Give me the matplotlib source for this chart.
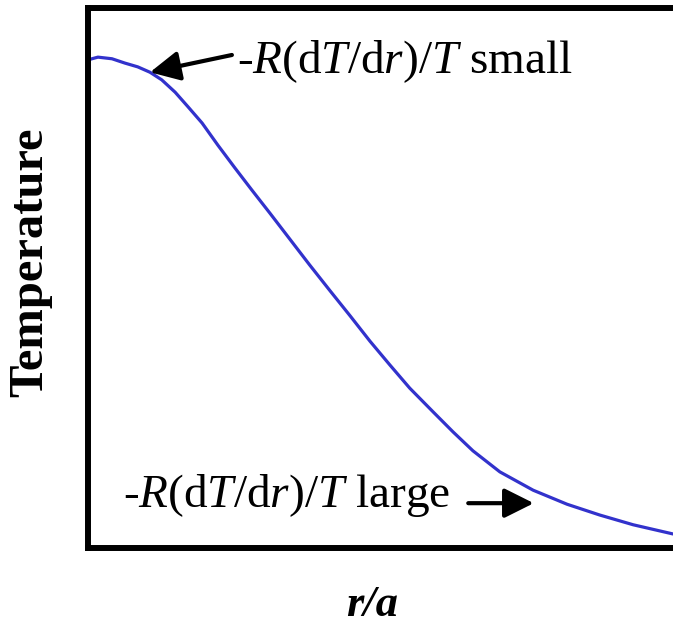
import matplotlib
matplotlib.use("Agg")
import matplotlib.pyplot as plt

# fonte parecida com Times
plt.rcParams['font.family'] = ['Liberation Serif', 'DejaVu Serif']
plt.rcParams['mathtext.fontset'] = 'custom'
plt.rcParams['mathtext.rm'] = 'Liberation Serif'
plt.rcParams['mathtext.it'] = 'Liberation Serif:italic'
plt.rcParams['mathtext.bf'] = 'Liberation Serif:bold'

# perfil de temperatura (r/a, T em unidades arbitrarias)
r_a = [0.0, 0.017, 0.041, 0.063, 0.085, 0.106, 0.126, 0.149, 0.171, 0.195,
       0.222, 0.251, 0.280, 0.311, 0.345, 0.379, 0.414, 0.448, 0.482, 0.516,
       0.550, 0.590, 0.624, 0.658, 0.704, 0.761, 0.819, 0.875, 0.932, 1.0]
temp = [0.904, 0.909, 0.906, 0.898, 0.891, 0.881, 0.867, 0.844, 0.817, 0.787,
        0.746, 0.704, 0.663, 0.620, 0.572, 0.524, 0.476, 0.430, 0.383, 0.339,
        0.296, 0.252, 0.215, 0.180, 0.141, 0.107, 0.081, 0.061, 0.043, 0.026]

texto_small = r"-$R$(d$T$/d$r$)/$T$ small"
texto_large = r"-$R$(d$T$/d$r$)/$T$ large"

fig = plt.figure(figsize=(6.73, 6.25), dpi=100)
ax = fig.add_axes([88 / 673, 77 / 625, 585 / 673, 540 / 625])

ax.plot(r_a, temp, color='#3232cc', lw=2.3, solid_capstyle='round',
        solid_joinstyle='round')
ax.set_xlim(0, 1)
ax.set_ylim(0, 1)
ax.set_xticks([])
ax.set_yticks([])
for lado in ['left', 'bottom', 'top']:
    ax.spines[lado].set_linewidth(4.3)
ax.spines['right'].set_visible(False)

# textos e setas
seta = dict(arrowstyle='-|>,head_length=0.9,head_width=0.45',
            mutation_scale=20, lw=3, color='black', shrinkA=0, shrinkB=0)
ax.text(0.255, 0.880, texto_small, fontsize=34, ha='left', va='baseline')
ax.annotate('', xy=(0.106, 0.881), xytext=(0.246, 0.913), arrowprops=seta)
ax.text(0.060, 0.076, texto_large, fontsize=34, ha='left', va='baseline')
ax.annotate('', xy=(0.762, 0.083), xytext=(0.650, 0.083), arrowprops=seta)

fig.text(30 / 673, 1 - 262 / 625, 'Temperature', rotation=90, fontsize=35,
         fontweight='bold', ha='center', va='center')
fig.text(372 / 673, 9 / 625, 'r/a', fontsize=32, fontweight='bold',
         fontstyle='italic', ha='center', va='baseline')

fig.savefig('out.png', dpi=100)
